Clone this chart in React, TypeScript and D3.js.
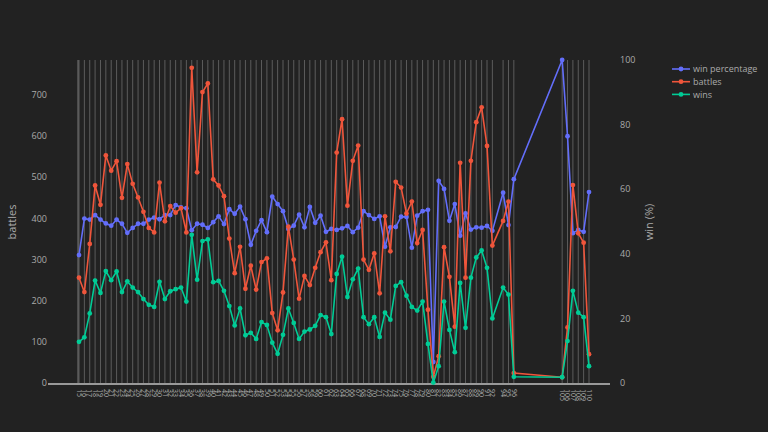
import * as React from 'react';
import * as d3 from 'd3';

// x values (tick per data point)
const levels: number[] = [
	15, 16, 17, 18, 19, 20, 21, 22, 23, 24, 25, 26, 27, 28, 29, 30, 31, 32, 33, 34, 35, 36, 37, 38, 39, 40, 41, 42, 43, 44,
	45, 46, 47, 48, 49, 50, 51, 52, 53, 54, 55, 56, 57, 58, 59, 60, 61, 62, 63, 64, 65, 66, 67, 68, 69, 70, 71, 72, 73, 74,
	75, 76, 77, 78, 79, 80, 81, 82, 83, 84, 85, 86, 87, 88, 89, 90, 91, 92, 94, 95, 96, 105, 106, 107, 108, 109, 110,
];

const battles: number[] = [
	256, 221, 338, 480, 433, 553, 516, 539, 450, 532, 484, 451, 416, 377, 366, 487, 393, 430, 414, 425, 366, 766, 512, 707, 728, 495, 480, 454, 351, 267,
	331, 229, 285, 227, 294, 303, 170, 128, 220, 380, 300, 205, 260, 238, 280, 318, 342, 250, 560, 641, 431, 540, 577, 300, 275, 315, 218, 405, 320, 489,
	475, 412, 441, 340, 372, 178, 15, 65, 330, 258, 137, 535, 256, 540, 634, 670, 576, 334, 394, 441, 24, 14, 135, 481, 364, 341, 70,
];

const wins: number[] = [
	100, 111, 169, 249, 219, 272, 250, 271, 221, 247, 232, 221, 204, 190, 185, 246, 204, 223, 228, 232, 198, 360, 251, 345, 349, 245, 248, 224, 187, 140,
	181, 116, 122, 107, 148, 141, 98, 71, 117, 181, 146, 107, 125, 130, 139, 165, 160, 119, 265, 307, 209, 252, 278, 160, 143, 160, 112, 171, 154, 236,
	245, 212, 185, 176, 198, 95, 1, 41, 198, 129, 75, 243, 134, 256, 305, 322, 280, 157, 232, 215, 15, 14, 102, 224, 171, 160, 41,
];

const winPct: number[] = [
	39.6, 50.9, 50.6, 52.0, 50.6, 49.4, 48.7, 50.6, 49.3, 46.5, 48.0, 49.3, 49.3, 50.6, 51.2, 50.7, 52.0, 52.0, 55.1, 54.4, 54.1, 47.3, 49.3, 49.0, 48.0, 49.8, 51.6, 49.2, 53.8, 52.4,
	54.6, 50.7, 42.8, 47.1, 50.4, 46.7, 57.7, 55.4, 53.2, 47.7, 48.7, 52.1, 48.2, 54.5, 49.6, 51.8, 46.8, 47.7, 47.4, 47.9, 48.6, 46.7, 48.1, 53.2, 52.0, 50.8, 51.6, 42.2, 48.2, 48.3,
	51.5, 51.4, 41.9, 51.8, 53.2, 53.6, 6.5, 62.6, 60.1, 50.2, 55.4, 45.6, 52.5, 47.5, 48.2, 48.1, 48.6, 47.1, 58.9, 48.9, 63.1, 100, 76.4, 46.4, 47.4, 46.8, 59.1,
];

const leftTicks: number[] = [0, 100, 200, 300, 400, 500, 600, 700];
const rightTicks: number[] = [0, 20, 40, 60, 80, 100];

const BG = '#222222';
const TEXT = '#aaaaaa';
const FONT = '"Open Sans", "DejaVu Sans", sans-serif';

const series = [
	{ name: 'win percentage', values: winPct, axis: 'right', color: '#636efa' },
	{ name: 'battles', values: battles, axis: 'left', color: '#ef553b' },
	{ name: 'wins', values: wins, axis: 'left', color: '#00cc96' },
];

export default function App() {
	const width = 768;
	const height = 432;
	const plotTop = 60;
	const plotBottom = 383;

	const x = d3.scaleLinear().domain([d3.min(levels) as number, d3.max(levels) as number]).range([79, 589]);
	const yLeft = d3.scaleLinear().domain([0, 785]).range([plotBottom, plotTop]);
	const yRight = d3.scaleLinear().domain([0, 100]).range([plotBottom, plotTop]);

	return (
		<div style={{ position: 'fixed', left: 0, top: 0, width, height, background: BG }}>
			<svg width={width} height={height} style={{ display: 'block' }} fontFamily={FONT}>
				<rect x={0} y={0} width={width} height={height} fill={BG} />
				{/* vertical grid at every level */}
				{levels.map((lv) => (
					<line key={'g' + lv} x1={x(lv)} x2={x(lv)} y1={plotTop} y2={plotBottom} stroke="#5c5c5c" strokeWidth={1} />
				))}
				{/* axis lines */}
				<line x1={78} x2={78} y1={plotTop} y2={plotBottom} stroke="#777" strokeWidth={1} />
				<line x1={48} x2={610} y1={384} y2={384} stroke="#999" strokeWidth={2} />
				{/* left ticks */}
				{leftTicks.map((t) => (
					<text key={'l' + t} x={47} y={yLeft(t)} dy="0.35em" textAnchor="end" fontSize={9} fill={TEXT}>
						{t}
					</text>
				))}
				{/* right ticks */}
				{rightTicks.map((t) => (
					<text key={'r' + t} x={620} y={yRight(t)} dy="0.35em" textAnchor="start" fontSize={9} fill={TEXT}>
						{t}
					</text>
				))}
				{/* x ticks, rotated */}
				{levels.map((lv) => (
					<text
						key={'x' + lv}
						transform={`translate(${x(lv) - 2.3},389) rotate(90)`}
						textAnchor="start"
						fontSize={7}
						fill={TEXT}
					>
						{lv}
					</text>
				))}
				{/* axis titles */}
				<text transform="translate(16,222) rotate(-90)" textAnchor="middle" fontSize={11} fill={TEXT}>
					battles
				</text>
				<text transform="translate(653,222) rotate(-90)" textAnchor="middle" fontSize={11} fill={TEXT}>
					win (%)
				</text>
				{/* series */}
				{series.map((s) => {
					const y = s.axis === 'left' ? yLeft : yRight;
					const line = d3
						.line<number>()
						.x((_, i) => x(levels[i]))
						.y((d) => y(d));
					return (
						<g key={s.name}>
							<path d={line(s.values) || ''} fill="none" stroke={s.color} strokeWidth={1.6} />
							{s.values.map((v, i) => (
								<circle key={i} cx={x(levels[i])} cy={y(v)} r={2.4} fill={s.color} />
							))}
						</g>
					);
				})}
				{/* legend */}
				{series.map((s, i) => (
					<g key={'lg' + s.name} transform={`translate(672,${69 + i * 12.7})`}>
						<line x1={0} x2={18} y1={0} y2={0} stroke={s.color} strokeWidth={1.6} />
						<circle cx={9} cy={0} r={2.4} fill={s.color} />
						<text x={21} y={0} dy="0.35em" fontSize={9} fill={TEXT}>
							{s.name}
						</text>
					</g>
				))}
			</svg>
		</div>
	);
}
